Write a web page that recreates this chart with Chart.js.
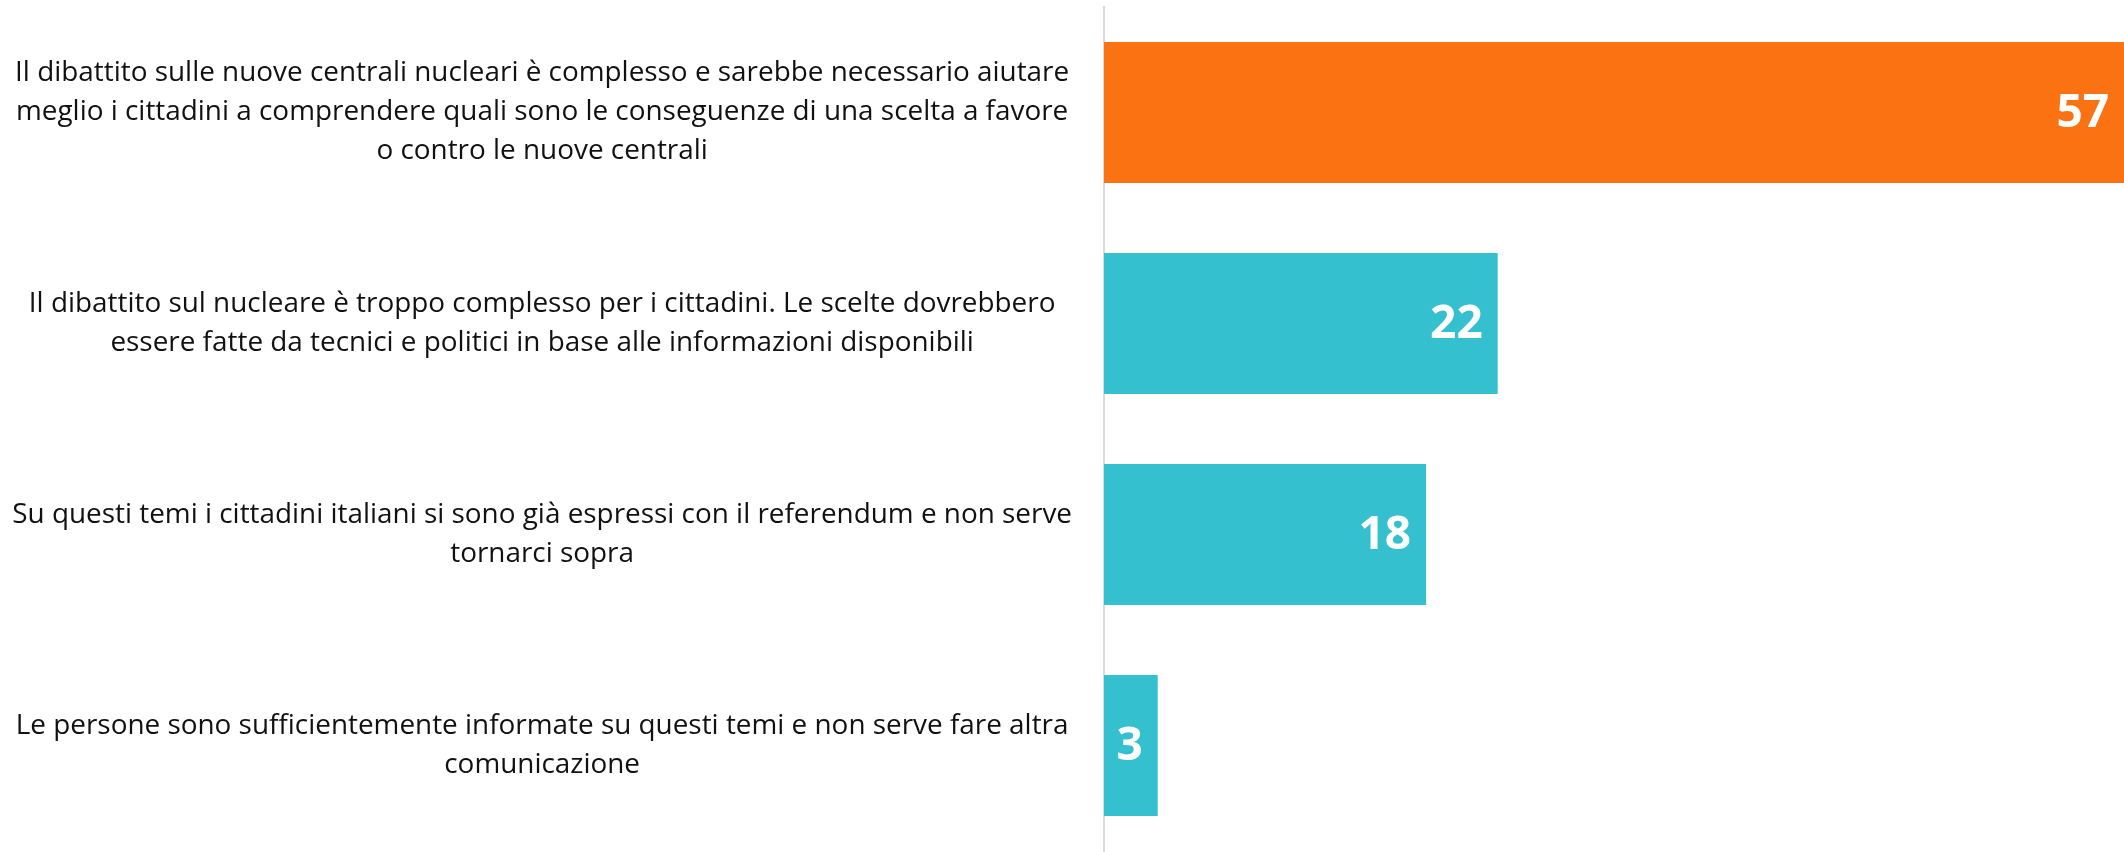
<!DOCTYPE html>
<html>
<head>
<meta charset="utf-8">
<script src="https://cdn.jsdelivr.net/npm/chart.js@4"></script>
<style>
  html, body { margin: 0; padding: 0; background: #ffffff; }
  #wrap { width: 2124px; height: 852px; }
</style>
</head>
<body>
<div id="wrap"><canvas id="c" width="2124" height="852"></canvas></div>
<script>
// ---- data ----
const categories = [
  ["Il dibattito sulle nuove centrali nucleari è complesso e sarebbe necessario aiutare",
   "meglio i cittadini a comprendere quali sono le conseguenze di una scelta a favore",
   "o contro le nuove centrali"],
  ["Il dibattito sul nucleare è troppo complesso per i cittadini. Le scelte dovrebbero",
   "essere fatte da tecnici e politici in base alle informazioni disponibili"],
  ["Su questi temi i cittadini italiani si sono già espressi con il referendum e non serve",
   "tornarci sopra"],
  ["Le persone sono sufficientemente informate su questi temi e non serve fare altra",
   "comunicazione"]
];
const values = [57, 22, 18, 3];
const axisMin = 0;
const axisMax = 57;

// ---- styles ----
const FONT = "'Open Sans', 'Noto Sans', 'DejaVu Sans', sans-serif";
const ORANGE = '#FA7211';
const TEAL = '#34C0CF';

// fit label font so the first line has the reference width
const mctx = document.createElement('canvas').getContext('2d');
mctx.font = '100px ' + FONT;
const refW = mctx.measureText(categories[0][0]).width;
const labelSize = Math.round(100 * 1053 / refW * 10) / 10;

const valueLabels = {
  id: 'valueLabels',
  afterDatasetsDraw(chart) {
    const ctx = chart.ctx;
    const meta = chart.getDatasetMeta(0);
    ctx.save();
    ctx.fillStyle = '#ffffff';
    ctx.font = 'bold 46px ' + FONT;
    ctx.textAlign = 'right';
    ctx.textBaseline = 'middle';
    meta.data.forEach((bar, i) => {
      ctx.fillText(String(chart.data.datasets[0].data[i]), bar.x - 15, bar.y + 1);
    });
    ctx.restore();
  }
};

new Chart(document.getElementById('c'), {
  type: 'bar',
  data: {
    labels: categories,
    datasets: [{
      data: values,
      backgroundColor: (c) => c.dataIndex === 0 ? ORANGE : TEAL,
      borderWidth: 0,
      barPercentage: 1.0,
      categoryPercentage: 0.668
    }]
  },
  options: {
    indexAxis: 'y',
    responsive: false,
    animation: false,
    devicePixelRatio: 1,
    layout: { padding: { top: 7, bottom: 1, left: 0, right: 0 } },
    plugins: { legend: { display: false }, tooltip: { enabled: false } },
    scales: {
      x: { display: false, min: axisMin, max: axisMax },
      y: {
        afterFit(scale) {
          scale.width = 1104;
          scale.paddingTop = 0;
          scale.paddingBottom = 0;
        },
        grid: { display: false, drawTicks: false },
        border: { display: true, color: '#d9d9d9', width: 2 },
        ticks: {
          crossAlign: 'center',
          padding: 32,
          color: '#111111',
          font: { family: FONT, size: labelSize, lineHeight: '39px' }
        }
      }
    }
  },
  plugins: [valueLabels]
});
</script>
</body>
</html>
